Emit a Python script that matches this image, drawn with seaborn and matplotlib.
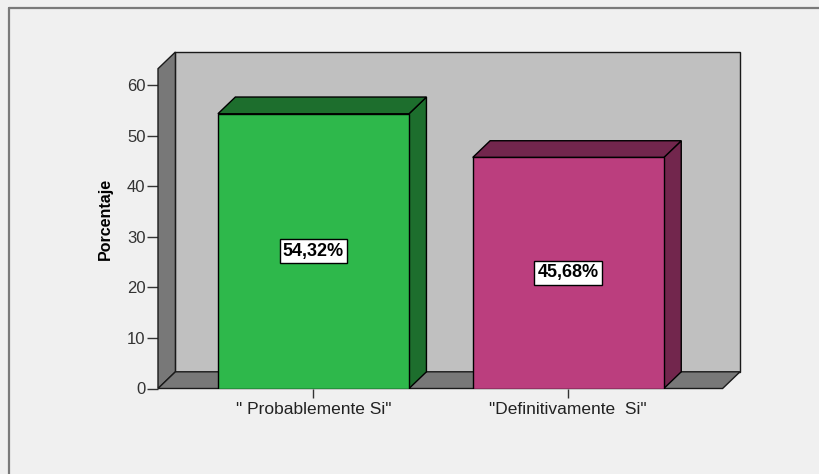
import matplotlib
matplotlib.use("Agg")
import matplotlib.pyplot as plt
import seaborn as sns
import pandas as pd
from matplotlib.patches import Polygon, Rectangle
from matplotlib.lines import Line2D

# ---- data ----
categories = ['" Probablemente Si"', '"Definitivamente  Si"']
values = [54.32, 45.68]
value_labels = ["54,32%", "45,68%"]
front_colors = ["#2eb84b", "#bb3e7e"]
dark_colors = ["#1d6e2d", "#72264d"]
yticks = [0, 10, 20, 30, 40, 50, 60]
ylabel = "Porcentaje"

sns.set_theme(style="white")
plt.rcParams["font.family"] = ["Liberation Sans", "DejaVu Sans"]

W, H = 820, 474
fig = plt.figure(figsize=(W / 100, H / 100), dpi=100)
fig.patch.set_facecolor("#f0f0f0")

# pixel geometry helpers
px_per_x = 254.8
x_center0 = 313.5
y_zero_px = 388.5
px_per_y = (388.5 - 85) / 60.0

left_px, right_px, top_px = 158, 742, 50
ax = fig.add_axes([left_px / W, 1 - y_zero_px / H,
                   (right_px - left_px) / W, (y_zero_px - top_px) / H])
ax.set_facecolor("none")

df = pd.DataFrame({"cat": categories, "val": values})
sns.barplot(data=df, x="cat", y="val", hue="cat", palette=front_colors,
            saturation=1, width=0.75, edgecolor="black", linewidth=1.0,
            legend=False, ax=ax, zorder=5)

xmin = (left_px - x_center0) / px_per_x
xmax = (right_px - x_center0) / px_per_x
ymax = (y_zero_px - top_px) / px_per_y
ax.set_xlim(xmin, xmax)
ax.set_ylim(0, ymax)

dx = 17.4 / px_per_x
dy = 16.7 / px_per_y

# 3D frame
x0 = xmin
xr_back = (740 - x_center0) / px_per_x
xr_front = xr_back - dx
ytop = (y_zero_px - 52) / px_per_y
wall_kw = dict(edgecolor="#1a1a1a", linewidth=1.0, clip_on=False, joinstyle="miter")
ax.add_patch(Polygon([(x0 + dx, dy), (xr_back, dy), (xr_back, ytop), (x0 + dx, ytop)],
                     facecolor="#c0c0c0", zorder=1, **wall_kw))
ax.add_patch(Polygon([(x0, 0), (x0 + dx, dy), (x0 + dx, ytop), (x0, ytop - dy)],
                     facecolor="#787878", zorder=2, **wall_kw))
ax.add_patch(Polygon([(x0, 0), (xr_front, 0), (xr_back, dy), (x0 + dx, dy)],
                     facecolor="#787878", zorder=2, **wall_kw))

# 3D bar sides/tops from seaborn bars
bars = [p for p in ax.patches if isinstance(p, Rectangle)][:len(values)]
for i, b in enumerate(bars):
    bx, bw, bh = b.get_x(), b.get_width(), b.get_height()
    col = dark_colors[i]
    ax.add_patch(Polygon([(bx + bw, 0), (bx + bw + dx, dy), (bx + bw + dx, bh + dy), (bx + bw, bh)],
                         facecolor=col, edgecolor="black", linewidth=1.0, zorder=4, clip_on=False))
    ax.add_patch(Polygon([(bx, bh), (bx + dx, bh + dy), (bx + bw + dx, bh + dy), (bx + bw, bh)],
                         facecolor=col, edgecolor="black", linewidth=1.0, zorder=4, clip_on=False))
    ax.text(bx + bw / 2, bh / 2, value_labels[i], ha="center", va="center",
            fontsize=13, fontweight="bold", color="black", zorder=7,
            bbox=dict(boxstyle="square,pad=0.18", facecolor="white", edgecolor="black", linewidth=1.0))

for s in ax.spines.values():
    s.set_visible(False)

ax.set_yticks(yticks)
ax.set_yticklabels([str(t) for t in yticks])
ax.tick_params(axis="y", direction="out", length=8, width=1.0, color="#333333",
               labelsize=12, labelcolor="#333333", pad=1, left=True)
ax.tick_params(axis="x", direction="out", length=6.5, width=1.0, color="#333333",
               labelsize=12.5, labelcolor="#222222", pad=3, bottom=True)
ax.set_xlabel("")
ax.set_ylabel(ylabel, fontsize=11.5, fontweight="bold", color="black", labelpad=10)

# outer border (cropped frame)
fig.add_artist(Line2D([9 / W, 9 / W], [0, 1 - 8 / H], transform=fig.transFigure,
                      color="#7a7a7a", linewidth=1.6))
fig.add_artist(Line2D([9 / W, 1], [1 - 8 / H, 1 - 8 / H], transform=fig.transFigure,
                      color="#7a7a7a", linewidth=1.6))

fig.savefig("out.png", dpi=100, facecolor=fig.get_facecolor())
